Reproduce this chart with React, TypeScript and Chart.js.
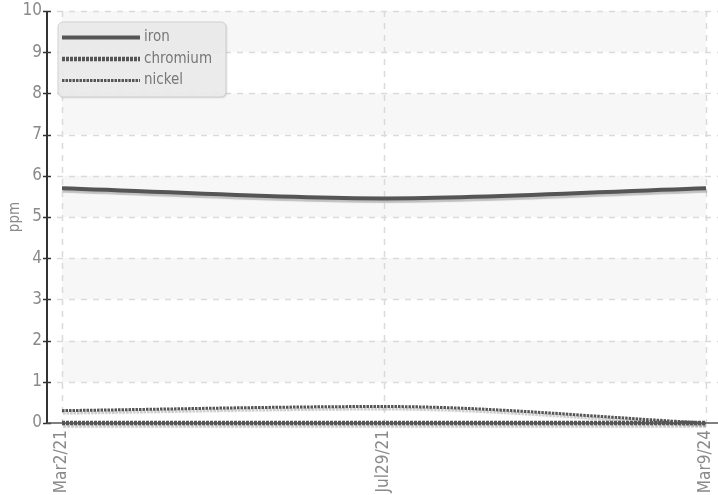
import React, { useEffect, useRef } from "react";
import { Chart, registerables } from "chart.js";

Chart.register(...registerables);

const categories = ["Mar2/21", "Jul29/21", "Mar9/24"];
const iron = [5.7, 5.45, 5.7];
const chromium = [0, 0, 0];
const nickel = [0.3, 0.4, 0.0];
const seriesNames = ["iron", "chromium", "nickel"];
const yMin = 0;
const yMax = 10;

const FONT = '"Liberation Sans Narrow", "DejaVu Sans Condensed", Roboto, sans-serif';
const LINE = "#555555";

const dashes: number[][] = [[], [3, 1], [2.5, 1]];
const widths = [4, 4.5, 3];

const bgPlugin = {
  id: "bgGrid",
  beforeDatasetsDraw(chart: any) {
    const { ctx, chartArea, scales } = chart;
    const x = scales.x;
    const y = scales.y;
    const x0 = x.getPixelForValue(0);
    const x2 = x.getPixelForValue(categories.length - 1);
    ctx.save();
    ctx.fillStyle = "#f7f7f7";
    for (let v = yMin; v < yMax; v++) {
      if (v % 2 === 1) {
        const top = y.getPixelForValue(v + 1);
        const bot = y.getPixelForValue(v);
        ctx.fillRect(x0, top, x2 - x0, bot - top);
      }
    }
    ctx.strokeStyle = "#dadada";
    ctx.lineWidth = 1.5;
    ctx.setLineDash([6, 6]);
    for (let v = yMin + 1; v <= yMax; v++) {
      const py = Math.round(y.getPixelForValue(v)) + 0.5;
      ctx.beginPath();
      ctx.moveTo(chartArea.left + 10, py);
      ctx.lineTo(chartArea.right, py);
      ctx.stroke();
    }
    for (let i = 0; i < categories.length; i++) {
      const px = Math.round(x.getPixelForValue(i)) + 0.5;
      ctx.beginPath();
      ctx.moveTo(px, chartArea.top);
      ctx.lineTo(px, chartArea.bottom);
      ctx.stroke();
    }
    ctx.setLineDash([]);
    ctx.strokeStyle = "#333333";
    ctx.lineWidth = 2;
    ctx.beginPath();
    ctx.moveTo(chartArea.left, chartArea.top);
    ctx.lineTo(chartArea.left, chartArea.bottom);
    ctx.stroke();
    ctx.lineWidth = 1.5;
    for (let v = yMin; v <= yMax; v++) {
      const py = Math.round(y.getPixelForValue(v)) + 0.5;
      ctx.beginPath();
      ctx.moveTo(chartArea.left - 4, py);
      ctx.lineTo(chartArea.left + 4, py);
      ctx.stroke();
    }
    ctx.strokeStyle = LINE;
    ctx.beginPath();
    ctx.moveTo(chartArea.left, chartArea.bottom);
    ctx.lineTo(chartArea.right, chartArea.bottom);
    ctx.stroke();
    ctx.restore();
  },
  beforeDatasetDraw(chart: any) {
    const ctx = chart.ctx;
    ctx.save();
    ctx.shadowColor = "rgba(0,0,0,0.22)";
    ctx.shadowOffsetX = 1;
    ctx.shadowOffsetY = 2.5;
    ctx.shadowBlur = 1;
  },
  afterDatasetDraw(chart: any) {
    chart.ctx.restore();
  },
  afterDraw(chart: any) {
    const ctx = chart.ctx;
    const bx = 58, by = 22, bw = 168, bh = 75, r = 5;
    ctx.save();
    ctx.shadowColor = "rgba(0,0,0,0.15)";
    ctx.shadowOffsetX = 1;
    ctx.shadowOffsetY = 1;
    ctx.shadowBlur = 2;
    ctx.beginPath();
    ctx.roundRect(bx, by, bw, bh, r);
    ctx.fillStyle = "rgba(236,236,236,0.92)";
    ctx.fill();
    ctx.shadowColor = "transparent";
    ctx.strokeStyle = "#cfcfcf";
    ctx.lineWidth = 1;
    ctx.stroke();
    ctx.font = `15px ${FONT}`;
    ctx.textBaseline = "middle";
    ctx.textAlign = "left";
    for (let i = 0; i < seriesNames.length; i++) {
      const ly = 37.5 + i * 21.5;
      ctx.strokeStyle = LINE;
      ctx.lineWidth = widths[i];
      ctx.setLineDash(dashes[i]);
      ctx.beginPath();
      ctx.moveTo(62, ly);
      ctx.lineTo(140, ly);
      ctx.stroke();
      ctx.setLineDash([]);
      ctx.fillStyle = "#777777";
      ctx.fillText(seriesNames[i], 144, ly);
    }
    ctx.restore();
  },
};

export default function App() {
  const ref = useRef<HTMLCanvasElement | null>(null);
  useEffect(() => {
    document.body.style.margin = "0";
    if (!ref.current) return;
    const mk = (vals: number[]) => vals.map((v, i) => ({ x: i, y: v }));
    const allSeries = [iron, chromium, nickel];
    const chart = new Chart(ref.current, {
      type: "line",
      data: {
        datasets: allSeries.map((vals, i) => ({
          label: seriesNames[i],
          data: mk(vals),
          borderColor: LINE,
          borderWidth: widths[i],
          borderDash: dashes[i],
          pointRadius: 0,
          fill: false,
          clip: 10,
          cubicInterpolationMode: "monotone" as const,
          tension: 0.4,
        })),
      },
      options: {
        animation: false,
        responsive: false,
        devicePixelRatio: 1,
        layout: { padding: { top: 11, right: 0, left: 0, bottom: 0 } },
        plugins: { legend: { display: false }, tooltip: { enabled: false } },
        scales: {
          x: {
            type: "linear",
            min: -15 / 322,
            max: 2 + 12 / 322,
            grid: { display: false, drawTicks: false },
            border: { display: false },
            afterBuildTicks: (s: any) => {
              s.ticks = categories.map((_, i) => ({ value: i }));
            },
            afterFit: (s: any) => {
              s.height = 72;
              s.paddingLeft = 0;
              s.paddingRight = 0;
            },
            ticks: {
              autoSkip: false,
              minRotation: 90,
              maxRotation: 90,
              padding: 7,
              color: "#8a8a8a",
              font: { family: FONT, size: 17 },
              callback: (v: any) => categories[Math.round(Number(v))] ?? "",
            },
          },
          y: {
            type: "linear",
            min: yMin,
            max: yMax,
            grid: { display: false, drawTicks: false },
            border: { display: false },
            afterFit: (s: any) => {
              s.width = 47;
              s.paddingTop = 0;
              s.paddingBottom = 0;
            },
            ticks: {
              stepSize: 1,
              padding: 5,
              color: "#8a8a8a",
              font: { family: FONT, size: 17 },
            },
            title: {
              display: true,
              text: "ppm",
              color: "#8a8a8a",
              font: { family: FONT, size: 15 },
              padding: { top: 6, bottom: 0 },
            },
          },
        },
      },
      plugins: [bgPlugin],
    });
    return () => chart.destroy();
  }, []);
  return (
    <div style={{ width: 718, height: 495 }}>
      <canvas ref={ref} width={718} height={495} />
    </div>
  );
}
